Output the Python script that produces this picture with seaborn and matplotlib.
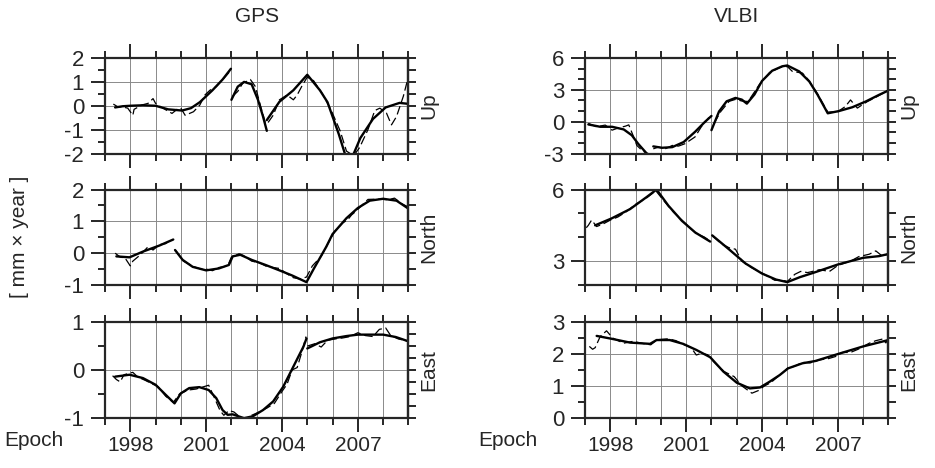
import matplotlib
matplotlib.use("Agg")
import matplotlib.pyplot as plt
import pandas as pd
import seaborn as sns
from matplotlib.ticker import MultipleLocator

# values: (epoch, value) pairs, one list per continuous segment
# solid = fitted curve, dashed = observed series

gps_up_fit = [
    [(1997.4, -0.07), (1997.7, -0.02), (1998.0, 0.0), (1998.5, 0.02), (1999.0, 0.0), (1999.5, -0.15),
     (2000.05, -0.2), (2000.4, -0.1), (2000.75, 0.15), (2001.25, 0.65), (2001.65, 1.1), (2001.98, 1.55)],
    [(2002.0, 0.25), (2002.25, 0.8), (2002.5, 1.0), (2002.8, 0.9), (2003.05, 0.25), (2003.25, -0.45),
     (2003.4, -1.05)],
    [(2003.4, -0.6), (2003.9, 0.17), (2004.45, 0.65), (2005.0, 1.3), (2005.5, 0.65), (2005.8, 0.15),
     (2006.0, -0.45), (2006.25, -1.2), (2006.5, -2.05), (2006.8, -2.1), (2007.1, -1.35), (2007.6, -0.55),
     (2008.1, -0.07), (2008.65, 0.12), (2009.0, 0.08)],
]
gps_up_obs = [
    [(1997.33, 0.07), (1997.5, -0.04), (1997.7, -0.05), (1997.9, -0.1), (1998.1, -0.4), (1998.15, -0.15),
     (1998.45, 0.03), (1998.7, 0.1), (1998.9, 0.3), (1999.0, 0.1), (1999.2, -0.04), (1999.45, -0.2),
     (1999.65, -0.32), (1999.85, -0.15), (2000.0, -0.1), (2000.17, -0.4), (2000.5, -0.25), (2000.75, 0.03),
     (2000.95, 0.45), (2001.15, 0.65), (2001.4, 0.8), (2001.7, 1.15), (2001.95, 1.45)],
    [(2002.05, 0.4), (2002.25, 0.6), (2002.45, 0.95), (2002.75, 1.1), (2002.95, 0.8), (2003.15, 0.0),
     (2003.35, -0.75)],
    [(2003.45, -0.7), (2003.65, -0.4), (2003.9, 0.25), (2004.2, 0.45), (2004.45, 0.25), (2004.6, 0.45),
     (2004.8, 0.85), (2005.0, 1.2), (2005.25, 1.05), (2005.6, 0.5), (2005.95, -0.2), (2006.3, -1.05),
     (2006.55, -1.9), (2006.7, -2.0), (2006.9, -2.0), (2007.07, -1.75), (2007.4, -1.0), (2007.67, -0.2),
     (2007.87, -0.1), (2008.13, -0.3), (2008.33, -0.8), (2008.53, -0.45), (2008.8, 0.4), (2008.97, 1.1),
     (2009.1, 0.2)],
]

gps_north_fit = [
    [(1997.45, -0.1), (1997.97, -0.13), (1998.5, 0.05), (1999.15, 0.24), (1999.7, 0.43)],
    [(1999.77, 0.1), (2000.07, -0.21), (2000.47, -0.43), (2001.0, -0.54), (2001.5, -0.48), (2001.9, -0.37),
     (2002.05, -0.1), (2002.35, -0.05), (2002.8, -0.21), (2003.35, -0.37), (2003.9, -0.54), (2004.4, -0.7),
     (2004.97, -0.91), (2005.25, -0.5), (2005.5, -0.15), (2005.75, 0.2), (2006.0, 0.6), (2006.55, 1.1),
     (2007.0, 1.42), (2007.47, 1.65), (2008.0, 1.71), (2008.53, 1.65), (2009.0, 1.4)],
]
gps_north_obs = [
    [(1997.4, 0.0), (1997.6, -0.12), (1997.8, -0.16), (1998.0, -0.4), (1998.1, -0.25), (1998.4, -0.05),
     (1998.7, 0.2), (1998.9, 0.1), (1999.15, 0.27), (1999.4, 0.3), (1999.6, 0.43)],
    [(1999.8, 0.08), (2000.1, -0.25), (2000.5, -0.42), (2000.8, -0.5), (2001.0, -0.5), (2001.25, -0.55),
     (2001.5, -0.45), (2001.85, -0.4), (2002.0, -0.12), (2002.3, -0.02), (2002.5, -0.08), (2002.8, -0.25),
     (2003.1, -0.3), (2003.4, -0.42), (2003.9, -0.48), (2004.2, -0.65), (2004.45, -0.77), (2004.7, -0.81),
     (2004.97, -0.75), (2005.2, -0.4), (2005.55, -0.1), (2005.85, 0.35), (2006.1, 0.7), (2006.4, 0.95),
     (2006.6, 1.05), (2006.75, 1.2), (2006.9, 1.3), (2007.4, 1.69), (2007.8, 1.7), (2008.2, 1.68),
     (2008.45, 1.73), (2008.75, 1.55), (2009.0, 1.45)],
]

gps_east_fit = [
    [(1997.4, -0.14), (1997.97, -0.1), (1998.5, -0.17), (1999.0, -0.31), (1999.4, -0.52), (1999.75, -0.7),
     (2000.0, -0.49), (2000.33, -0.38), (2000.73, -0.36), (2001.1, -0.42), (2001.4, -0.59), (2001.65, -0.84),
     (2001.85, -0.94), (2002.05, -0.93), (2002.5, -1.01), (2002.85, -0.97), (2003.25, -0.84), (2003.65, -0.66),
     (2004.05, -0.35), (2004.45, 0.07), (2004.85, 0.49), (2004.97, 0.66)],
    [(2005.0, 0.45), (2005.5, 0.58), (2006.0, 0.66), (2006.55, 0.71), (2007.0, 0.74), (2008.0, 0.74),
     (2008.5, 0.69), (2009.0, 0.6)],
]
gps_east_obs = [
    [(1997.3, -0.12), (1997.45, -0.2), (1997.6, -0.25), (1997.75, -0.1), (1998.1, -0.05), (1998.3, -0.15),
     (1998.6, -0.22), (1998.9, -0.3), (1999.1, -0.35), (1999.4, -0.55), (1999.7, -0.68), (1999.95, -0.5),
     (2000.3, -0.42), (2000.6, -0.4), (2000.85, -0.36), (2001.1, -0.32), (2001.3, -0.55), (2001.55, -0.85),
     (2001.7, -0.95), (2001.9, -0.85), (2002.1, -0.88), (2002.3, -0.97), (2002.55, -1.05), (2002.8, -0.95),
     (2003.1, -0.88), (2003.4, -0.8), (2003.7, -0.7), (2004.0, -0.45), (2004.2, -0.3), (2004.4, 0.0),
     (2004.6, 0.05), (2004.8, 0.4), (2004.95, 0.7)],
    [(2005.0, 0.5), (2005.3, 0.55), (2005.55, 0.48), (2005.8, 0.62), (2006.1, 0.65), (2006.4, 0.67),
     (2006.7, 0.7), (2007.0, 0.78), (2007.3, 0.72), (2007.6, 0.7), (2007.85, 0.85), (2008.1, 0.88),
     (2008.3, 0.72), (2008.6, 0.65), (2008.85, 0.62), (2009.0, 0.6)],
]

vlbi_up_fit = [
    [(1997.13, -0.26), (1997.6, -0.48), (1998.07, -0.48), (1998.53, -0.73), (1998.85, -1.28), (1999.1, -2.08),
     (1999.43, -2.97), (1999.6, -3.2)],
    [(1999.7, -2.33), (2000.05, -2.46), (2000.45, -2.4), (2000.9, -1.92), (2001.35, -0.96), (2001.75, 0.0),
     (2002.0, 0.54)],
    [(2002.0, -0.8), (2002.3, 0.96), (2002.6, 1.92), (2002.95, 2.24), (2003.2, 2.08), (2003.4, 1.7),
     (2003.7, 2.56), (2004.0, 3.84), (2004.4, 4.8), (2004.8, 5.22), (2005.0, 5.3), (2005.47, 4.74),
     (2005.87, 3.79), (2006.2, 2.53), (2006.6, 0.79), (2007.04, 1.0), (2007.57, 1.36), (2008.1, 1.9),
     (2008.63, 2.53), (2009.0, 2.94)],
]
vlbi_up_obs = [
    [(1997.13, -0.16), (1997.45, -0.48), (1997.8, -0.32), (1998.07, -0.8), (1998.33, -0.58), (1998.6, -0.42),
     (1998.73, -0.3), (1998.9, -1.3), (1999.05, -2.24), (1999.25, -2.7), (1999.45, -3.0)],
    [(1999.7, -2.56), (1999.9, -2.4), (2000.17, -2.56), (2000.45, -2.24), (2000.7, -2.3), (2000.95, -2.08),
     (2001.35, -1.44), (2001.6, -0.48), (2001.9, 0.4)],
    [(2002.1, -0.16), (2002.37, 0.96), (2002.7, 1.92), (2002.95, 2.1), (2003.2, 1.95), (2003.45, 1.9),
     (2003.9, 3.52), (2004.3, 4.64), (2004.7, 5.1), (2005.0, 5.2), (2005.2, 4.74), (2005.6, 4.58),
     (2005.85, 3.9), (2006.2, 2.6), (2006.6, 0.9), (2007.0, 0.95), (2007.3, 1.44), (2007.5, 2.05),
     (2007.77, 1.28), (2007.97, 1.6), (2008.17, 1.9), (2008.5, 2.3), (2008.8, 2.7), (2009.0, 3.0)],
]

vlbi_north_fit = [
    [(1997.4, 4.5), (1998.05, 4.79), (1998.78, 5.18), (1999.43, 5.68), (1999.83, 6.0), (2000.3, 5.32),
     (2000.83, 4.69), (2001.36, 4.2), (2001.95, 3.82)],
    [(2002.03, 4.08), (2002.7, 3.49), (2003.35, 2.9), (2004.0, 2.48), (2004.55, 2.23), (2005.0, 2.12),
     (2005.5, 2.33), (2006.0, 2.5), (2007.0, 2.86), (2008.0, 3.14), (2008.63, 3.21), (2009.0, 3.3)],
]
vlbi_north_obs = [
    [(1997.05, 4.4), (1997.13, 4.5), (1997.26, 4.72), (1997.46, 4.45), (1997.7, 4.55), (1998.0, 4.72),
     (1998.3, 4.85), (1998.6, 5.05), (1999.03, 5.4), (1999.4, 5.62), (1999.8, 5.95), (2000.1, 5.55),
     (2000.5, 5.05), (2000.83, 4.72), (2001.1, 4.45), (2001.4, 4.15), (2001.7, 4.02), (2001.95, 3.85)],
    [(2002.05, 4.05), (2002.4, 3.72), (2002.7, 3.56), (2002.95, 3.5), (2003.2, 3.0), (2003.6, 2.72),
     (2004.0, 2.5), (2004.5, 2.2), (2004.8, 2.2), (2005.0, 2.15), (2005.3, 2.45), (2005.53, 2.57),
     (2005.8, 2.52), (2006.27, 2.64), (2006.67, 2.57), (2007.0, 2.82), (2007.5, 3.0), (2007.83, 3.19),
     (2008.24, 3.29), (2008.5, 3.43), (2008.76, 3.21), (2009.0, 3.3)],
]

vlbi_east_fit = [
    [(1997.46, 2.57), (1998.05, 2.48), (1998.78, 2.36), (1999.57, 2.32), (1999.83, 2.44), (2000.35, 2.44),
     (2000.88, 2.32), (2001.4, 2.13), (2001.95, 1.9), (2002.47, 1.45), (2003.0, 1.1), (2003.52, 0.92),
     (2003.92, 0.95), (2004.3, 1.13), (2004.7, 1.34), (2005.03, 1.55), (2005.6, 1.71), (2006.1, 1.78),
     (2007.0, 2.0), (2008.0, 2.24), (2009.0, 2.44)],
]
vlbi_east_obs = [
    [(1997.17, 2.24), (1997.3, 2.15), (1997.4, 2.2), (1997.6, 2.55), (1997.85, 2.73), (1998.1, 2.5),
     (1998.52, 2.34), (1998.9, 2.4), (1999.3, 2.33), (1999.6, 2.29), (1999.85, 2.45), (2000.3, 2.48),
     (2000.6, 2.42), (2000.9, 2.3), (2001.2, 2.2), (2001.4, 1.97), (2001.6, 2.02), (2001.85, 1.98),
     (2002.1, 1.75), (2002.5, 1.45), (2002.9, 1.29), (2003.2, 1.0), (2003.6, 0.77), (2003.85, 0.85),
     (2004.1, 1.0), (2004.35, 1.1), (2004.55, 1.24), (2004.8, 1.4), (2005.0, 1.55), (2005.3, 1.62),
     (2005.6, 1.74), (2005.9, 1.72), (2006.3, 1.82), (2006.6, 1.85), (2006.9, 1.92), (2007.17, 2.05),
     (2007.5, 2.05), (2007.8, 2.15), (2008.24, 2.34), (2008.5, 2.42), (2008.76, 2.47), (2008.9, 2.35),
     (2009.0, 2.5)],
]

year_labels = [1998, 2001, 2004, 2007]
components = ["Up", "North", "East"]


def to_frame(segments):
    rows = []
    for k, seg in enumerate(segments):
        for t, v in seg:
            rows.append((k, t, v))
    return pd.DataFrame(rows, columns=["seg", "epoch", "value"])


sns.set_style("ticks")
plt.rcParams["font.family"] = ["Liberation Sans", "DejaVu Sans"]
plt.rcParams["axes.unicode_minus"] = False
FS = 15

fig = plt.figure(figsize=(9.35, 4.68), dpi=100)

col_x = [0.1123, 0.6257]
col_w = 0.3245
row_y = [0.672, 0.391, 0.1075]
row_h = 0.204

# (fit, obs, ylim, major, left minor, right step)
panels = [
    [(gps_up_fit, gps_up_obs, (-2, 2), 1, 0.5, 0.5),
     (gps_north_fit, gps_north_obs, (-1, 2), 1, 0.5, 0.5),
     (gps_east_fit, gps_east_obs, (-1, 1), 1, 0.5, 0.25)],
    [(vlbi_up_fit, vlbi_up_obs, (-3, 6), 3, 1, 1),
     (vlbi_north_fit, vlbi_north_obs, (2, 6), 3, 1, 1),
     (vlbi_east_fit, vlbi_east_obs, (0, 3), 1, 0.5, 0.5)],
]

for c, col in enumerate(panels):
    for r, (fit, obs, ylim, major, minor, rstep) in enumerate(col):
        ax = fig.add_axes([col_x[c], row_y[r], col_w, row_h])
        sns.lineplot(data=to_frame(obs), x="epoch", y="value", units="seg", estimator=None,
                     color="black", lw=0.9, linestyle=(0, (7, 3)), ax=ax)
        sns.lineplot(data=to_frame(fit), x="epoch", y="value", units="seg", estimator=None,
                     color="black", lw=1.7, ax=ax)
        ax.set_xlim(1997, 2009)
        ax.set_ylim(*ylim)
        ax.xaxis.set_major_locator(plt.FixedLocator(year_labels))
        ax.xaxis.set_minor_locator(MultipleLocator(1))
        ax.yaxis.set_major_locator(MultipleLocator(major))
        ax.yaxis.set_minor_locator(MultipleLocator(minor))
        ax.grid(axis="x", which="both", color="#8a8a8a", lw=0.7)
        ax.grid(axis="y", which="major", color="#8a8a8a", lw=0.7)
        for s in ax.spines.values():
            s.set_linewidth(1.6)
        ax.tick_params(axis="x", which="both", direction="out", top=True, bottom=True, width=1.4)
        ax.tick_params(axis="x", which="major", length=10, pad=3, labelsize=FS)
        ax.tick_params(axis="x", which="minor", length=5)
        ax.tick_params(axis="y", which="both", direction="out", left=True, right=False, width=1.4)
        ax.tick_params(axis="y", which="major", length=10, pad=5, labelsize=FS + 1)
        ax.tick_params(axis="y", which="minor", length=5)
        ax.set_xlabel("")
        ax.set_ylabel("")
        if r < 2:
            ax.set_xticklabels([])
        else:
            ax.set_xticklabels([str(y) for y in year_labels])
        sec = ax.secondary_yaxis("right")
        sec.yaxis.set_major_locator(MultipleLocator(rstep))
        sec.tick_params(direction="out", length=6, width=1.4, labelright=False)
        sec.spines["right"].set_linewidth(1.6)
        sec.set_ylabel(components[r], fontsize=FS, rotation=90, labelpad=2)

fig.text(col_x[0] + col_w / 2, 0.965, "GPS", ha="center", va="center", fontsize=FS)
fig.text(col_x[1] + col_w / 2, 0.965, "VLBI", ha="center", va="center", fontsize=FS)
fig.text(0.021, 0.494, "[ mm \u00d7 year ]", rotation=90, ha="center", va="center", fontsize=FS)
fig.text(0.005, 0.058, "Epoch", ha="left", va="center", fontsize=FS)
fig.text(0.511, 0.058, "Epoch", ha="left", va="center", fontsize=FS)

fig.savefig("out.png", dpi=100)
